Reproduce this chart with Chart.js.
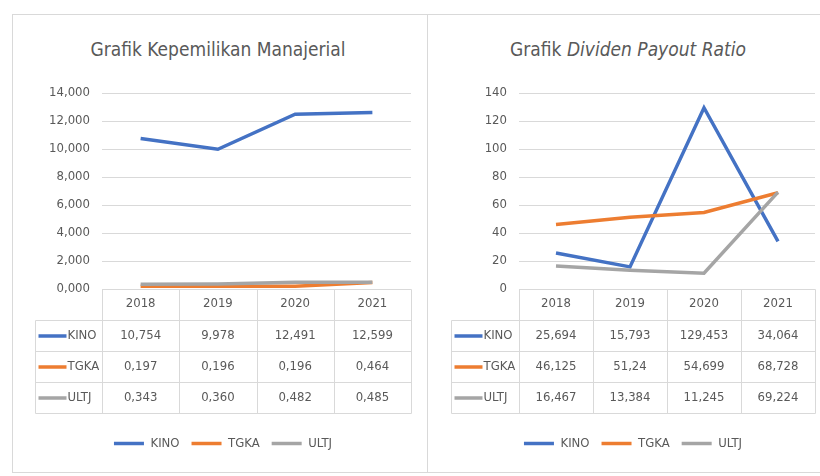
<!DOCTYPE html>
<html>
<head>
<meta charset="utf-8">
<script src="https://cdn.jsdelivr.net/npm/chart.js@4.4.1/dist/chart.umd.min.js"></script>
<style>
  body { margin:0; background:#fff; }
  #wrap { position:relative; width:820px; height:476px; overflow:hidden; background:#fff;
          font-family:"DejaVu Sans Condensed","Liberation Sans Narrow","Open Sans",sans-serif; }
  .frame { position:absolute; left:12px; top:14px; width:820px; height:459px; border:1px solid #d9d9d9; box-sizing:border-box; }
  .divider { position:absolute; left:427px; top:14px; width:1px; height:459px; background:#d9d9d9; }
  .title { position:absolute; top:38px; font-size:19px; color:#595959; text-align:center; white-space:nowrap; }
  canvas { position:absolute; top:0; }
</style>
</head>
<body>
<div id="wrap">
  <div class="frame"></div>
  <div class="divider"></div>
  <div class="title" style="left:18px;width:400px;">Grafik Kepemilikan Manajerial</div>
  <div class="title" style="left:428px;width:400px;">Grafik <i>Dividen Payout Ratio</i></div>
  <canvas id="kmChart" width="380" height="476" style="left:35px;width:380px;height:476px;"></canvas>
  <canvas id="dprChart" width="369" height="476" style="left:451px;width:369px;height:476px;"></canvas>
</div>
<script>
const years = ['2018', '2019', '2020', '2021'];
const seriesNames = ['KINO', 'TGKA', 'ULTJ'];
const seriesColors = ['#4472C4', '#ED7D31', '#A5A5A5'];

// Kepemilikan Manajerial
const kmKino = [10.754, 9.978, 12.491, 12.599];
const kmTgka = [0.197, 0.196, 0.196, 0.464];
const kmUltj = [0.343, 0.360, 0.482, 0.485];

// Dividen Payout Ratio
const dprKino = [25.694, 15.793, 129.453, 34.064];
const dprTgka = [46.125, 51.24, 54.699, 68.728];
const dprUltj = [16.467, 13.384, 11.245, 69.224];

const FONT = '"DejaVu Sans Condensed","Liberation Sans Narrow","Open Sans",sans-serif';
const FS = 13;
const TEXT = '#595959';
const LINE = '#d9d9d9';
const ROW_H = 31;

// data table under the plot, columns follow the x scale
const dataTable = {
  id: 'dataTable',
  afterDraw(chart, args, opt) {
    const ctx = chart.ctx, xs = chart.scales.x, ca = chart.chartArea;
    const top = Math.round(ca.bottom) + 0.5;
    const left = 0.5, right = Math.round(ca.right) + 0.5;
    const n = chart.data.labels.length;
    ctx.save();
    ctx.strokeStyle = LINE;
    ctx.lineWidth = 1;
    ctx.beginPath();
    ctx.moveTo(Math.round(ca.left) + 0.5, top);
    ctx.lineTo(right, top);
    for (let r = 1; r <= 4; r++) {
      ctx.moveTo(left, top + r * ROW_H);
      ctx.lineTo(right, top + r * ROW_H);
    }
    for (let i = 0; i <= n; i++) {
      const bx = Math.round(xs.getPixelForValue(i - 0.5)) + 0.5;
      ctx.moveTo(bx, top);
      ctx.lineTo(bx, top + 4 * ROW_H);
    }
    ctx.moveTo(left, top + ROW_H);
    ctx.lineTo(left, top + 4 * ROW_H);
    ctx.stroke();

    ctx.font = FS + 'px ' + FONT;
    ctx.textBaseline = 'middle';
    chart.data.datasets.forEach((ds, r) => {
      const cy = top + (r + 1.5) * ROW_H;
      ctx.strokeStyle = ds.borderColor;
      ctx.lineWidth = 3.5;
      ctx.beginPath();
      ctx.moveTo(left + 3, cy);
      ctx.lineTo(left + 31, cy);
      ctx.stroke();
      ctx.fillStyle = TEXT;
      ctx.textAlign = 'left';
      ctx.fillText(ds.label, left + 32, cy);
      ctx.textAlign = 'center';
      ds.data.forEach((v, i) => {
        ctx.fillText(opt.format(v), xs.getPixelForValue(i), cy);
      });
    });
    ctx.restore();
  }
};

function makeChart(id, values, yMax, yStep, yFormat, cellFormat, yWidth, padRight) {
  return new Chart(document.getElementById(id), {
    type: 'line',
    data: {
      labels: years,
      datasets: values.map((d, i) => ({
        label: seriesNames[i],
        data: d,
        borderColor: seriesColors[i],
        backgroundColor: seriesColors[i],
        borderWidth: 3.5,
        pointRadius: 0,
        tension: 0,
        order: 3 - i
      }))
    },
    options: {
      responsive: false,
      animation: false,
      layout: { padding: { top: 93, bottom: 16, left: 0, right: padRight } },
      scales: {
        x: {
          offset: true,
          grid: { display: false, drawTicks: false },
          border: { display: false },
          ticks: { color: TEXT, padding: 7, font: { family: FONT, size: FS } },
          afterFit: s => { s.height = 136; }
        },
        y: {
          min: 0,
          max: yMax,
          grid: { color: LINE, drawTicks: false },
          border: { display: false },
          ticks: { stepSize: yStep, color: TEXT, padding: 12, font: { family: FONT, size: FS },
                   callback: v => yFormat(v) },
          afterFit: s => { s.width = yWidth; }
        }
      },
      plugins: {
        title: { display: false },
        tooltip: { enabled: false },
        legend: {
          position: 'bottom',
          labels: {
            usePointStyle: true,
            pointStyle: 'line',
            pointStyleWidth: 30,
            padding: 12,
            color: TEXT,
            font: { family: FONT, size: FS },
            sort: (a, b) => a.datasetIndex - b.datasetIndex
          }
        },
        dataTable: { format: cellFormat }
      }
    },
    plugins: [dataTable]
  });
}

makeChart('kmChart', [kmKino, kmTgka, kmUltj], 14, 2,
  v => v.toFixed(3).replace('.', ','),
  v => v.toFixed(3).replace('.', ','),
  67, 4);

makeChart('dprChart', [dprKino, dprTgka, dprUltj], 140, 20,
  v => String(v),
  v => String(v).replace('.', ','),
  68, 5);
</script>
</body>
</html>
